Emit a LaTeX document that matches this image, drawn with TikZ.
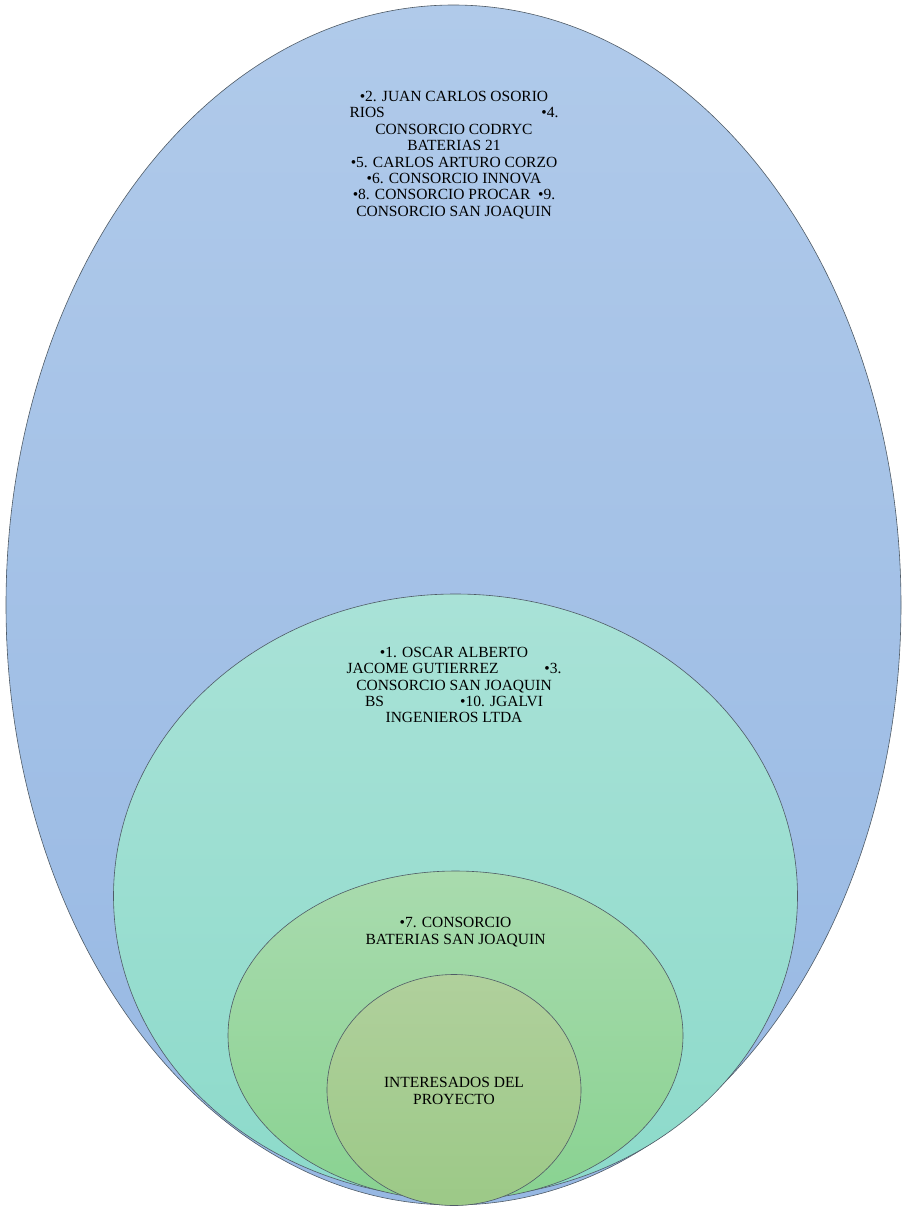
\documentclass[tikz,border=0pt]{standalone}
\usepackage{fontspec}
\setmainfont{Liberation Serif}
\usepackage{tikz}
\usetikzlibrary{positioning,shapes.geometric}

\definecolor{blueTop}{HTML}{B0CAEA}
\definecolor{blueBot}{HTML}{97B8E3}
\definecolor{aquaTop}{HTML}{A9E2D7}
\definecolor{aquaBot}{HTML}{8CDACA}
\definecolor{greenTop}{HTML}{A9DBAE}
\definecolor{greenBot}{HTML}{89D291}
\definecolor{oliveTop}{HTML}{B0D09C}
\definecolor{oliveBot}{HTML}{9CC987}
\definecolor{rim}{HTML}{4F5B66}

\tikzset{
	ring/.style={ellipse, draw=rim, line width=0.6pt, inner sep=0pt},
	txt/.style={align=center, font=\fontsize{15.5}{16.4}\selectfont, inner sep=0pt}
}

\begin{document}
\begin{tikzpicture}[x=1pt,y=-1pt]
	\useasboundingbox (0,0) rectangle (902,1208);
	\node[ring, top color=blueTop, bottom color=blueBot,
		  minimum width=895, minimum height=1200] 
		  (E1) at (453.5,605) {};
	\node[ring, top color=aquaTop, bottom color=aquaBot,
		  minimum width=684, minimum height=604] 
		  (E2) at (455.5,896) {};
	\node[ring, top color=greenTop, bottom color=greenBot,
		  minimum width=455, minimum height=329] 
		  (E3) at (455.5,1035.5) {};
	\node[ring, top color=oliveTop, bottom color=oliveBot,
		  minimum width=254, minimum height=231] 
		  (E4) at (454,1090) {};

	\node[txt] (T1) at (454,155) {%
		•2. JUAN CARLOS OSORIO\\
		\makebox[209pt]{RIOS\hfill •4.}\\
		CONSORCIO CODRYC\\
		BATERIAS 21\\
		•5. CARLOS ARTURO CORZO\\
		•6. CONSORCIO INNOVA\\
		•8. CONSORCIO PROCAR\enspace •9.\\
		CONSORCIO SAN JOAQUIN};
	\node[txt] (T2) at (454,685) {%
		•1. OSCAR ALBERTO\\
		\makebox[215pt]{JACOME GUTIERREZ\hfill •3.}\\
		CONSORCIO SAN JOAQUIN\\
		\makebox[178pt]{BS\hfill •10. JGALVI}\\
		INGENIEROS LTDA};
	\node[txt] (T3) at (455.5,932) {•7. CONSORCIO\\ BATERIAS SAN JOAQUIN};
	\node[txt] (T4) at (454,1091) {INTERESADOS DEL\\ PROYECTO};
\end{tikzpicture}
\end{document}
